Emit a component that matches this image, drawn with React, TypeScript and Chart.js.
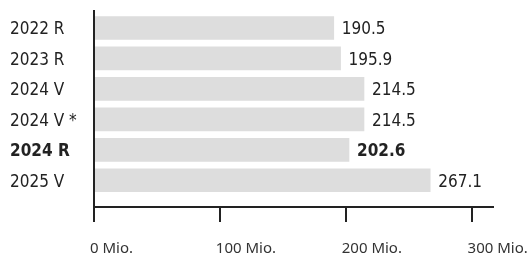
import React, { useEffect, useRef } from 'react';
import { Chart, registerables } from 'chart.js';

Chart.register(...registerables);

const categories = ['2022 R', '2023 R', '2024 V', '2024 V *', '2024 R', '2025 V'];
const values = [190.5, 195.9, 214.5, 214.5, 202.6, 267.1];
const xTicks = [0, 100, 200, 300];
const xTickSuffix = ' Mio.';
const boldIndex = 4;

const NARROW = '"DejaVu Sans Condensed", "Liberation Sans Narrow", sans-serif';
const SANS = '"Noto Sans", "Open Sans", sans-serif';
const INK = '#222222';
const BAR = '#dddddd';
const LABEL_SIZE = 17;

const valueLabels = {
  id: 'valueLabels',
  afterDatasetsDraw(chart: any) {
    const ctx = chart.ctx;
    const meta = chart.getDatasetMeta(0);
    ctx.save();
    ctx.fillStyle = INK;
    ctx.textAlign = 'left';
    ctx.textBaseline = 'middle';
    meta.data.forEach((bar: any, i: number) => {
      ctx.font = `${i === boldIndex ? 'bold ' : ''}${LABEL_SIZE}px ${NARROW}`;
      ctx.fillText(values[i].toFixed(1), bar.x + 8, bar.y + 2);
    });
    ctx.restore();
  },
};

export default function App() {
  const ref = useRef<HTMLCanvasElement>(null);
  useEffect(() => {
    const chart = new Chart(ref.current!, {
      type: 'bar',
      data: {
        datasets: [
          {
            data: values.map((v, i) => ({ x: v, y: i })),
            backgroundColor: BAR,
            borderWidth: 0,
            barThickness: 23,
          } as any,
        ],
      },
      options: {
        indexAxis: 'y',
        responsive: false,
        animation: false,
        layout: { padding: { left: 10, right: 39, top: 11, bottom: 0 } },
        plugins: { legend: { display: false }, tooltip: { enabled: false } },
        scales: {
          x: {
            type: 'linear',
            position: 'bottom',
            offset: false,
            min: 0,
            max: 317,
            afterBuildTicks: (s: any) => {
              s.ticks = xTicks.map((v) => ({ value: v }));
            },
            afterFit: (s: any) => {
              s.height = 48;
              s.paddingLeft = 0;
              s.paddingRight = 0;
            },
            grid: { drawOnChartArea: false, drawTicks: true, tickLength: 15, lineWidth: 2, color: INK },
            border: { display: true, color: INK, width: 2 },
            ticks: {
              align: 'start',
              labelOffset: -4,
              padding: 18,
              color: '#333333',
              font: { family: SANS, size: 15 },
              maxRotation: 0,
              autoSkip: false,
              callback: (v: any) => v + xTickSuffix,
            },
          },
          y: {
            type: 'linear',
            reverse: true,
            offset: false,
            min: -0.558,
            max: 5.877,
            afterBuildTicks: (s: any) => {
              s.ticks = categories.map((_, i) => ({ value: i }));
            },
            afterFit: (s: any) => {
              s.width = 84;
              s.paddingTop = 0;
              s.paddingBottom = 0;
            },
            grid: { display: true, drawOnChartArea: false, drawTicks: false, z: 0 },
            border: { display: true, color: INK, width: 2, z: 1 },
            ticks: {
              crossAlign: 'far',
              color: INK,
              autoSkip: false,
              labelOffset: 2,
              font: (c: any) => ({
                family: NARROW,
                size: LABEL_SIZE,
                weight: c.index === boldIndex ? 'bold' : 'normal',
              }),
              callback: (v: any) => categories[v] ?? '',
            },
          },
        },
      } as any,
      plugins: [valueLabels],
    });
    return () => chart.destroy();
  }, []);
  return (
    <div style={{ position: 'fixed', left: 0, top: 0, width: 532, height: 255, background: '#fff' }}>
      <canvas ref={ref} width={532} height={255} style={{ width: 532, height: 255, display: 'block' }} />
    </div>
  );
}
